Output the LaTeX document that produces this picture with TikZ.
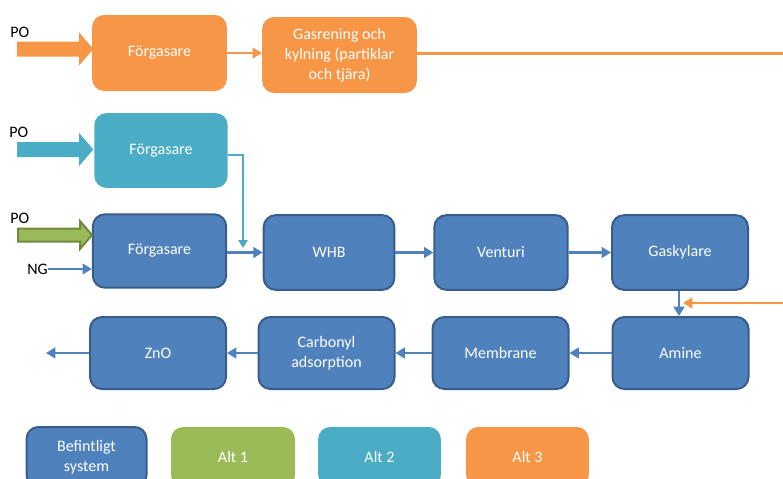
\documentclass[tikz,border=0pt]{standalone}
\usepackage{fontspec}
\setmainfont{Carlito}
\usetikzlibrary{arrows.meta, calc}

\definecolor{Befintlig}{HTML}{4F81BD}
\definecolor{BefintligKant}{HTML}{385D8A}
\definecolor{AltEtt}{HTML}{9BBB59}
\definecolor{AltEttKant}{HTML}{71893F}
\definecolor{AltTva}{HTML}{4BACC6}
\definecolor{AltTre}{HTML}{F79646}

\tikzset{
    steg/.style={
        rectangle, rounded corners=9pt, text=white, align=center,
        font=\fontsize{12}{15}\selectfont, inner sep=0pt
    },
    stegbef/.style={steg, fill=Befintlig, draw=BefintligKant, line width=1.5pt},
    pil/.style={line width=2pt, -{Triangle[length=7pt,width=8pt]}},
    etikett/.style={font=\fontsize{12}{15}\selectfont, inner sep=0pt}
}

% Tjock pil: startpunkt, farg, kantfarg
\newcommand{\tjockpil}[3]{
    \filldraw[fill=#2, draw=#3, line width=1.5pt, line join=miter]
    (#1) ++(0,-6.5) -- ++(62,0) -- ++(0,-7.5) -- ++(12,14)
    -- ++(-12,14) -- ++(0,-7.5) -- ++(-62,0) -- cycle;
}

\begin{document}
\begin{tikzpicture}[x=0.75pt, y=-0.75pt]

\useasboundingbox (0,0) rectangle (783,479);

% Alt 3
\node[steg, fill=AltTre, minimum width=101pt, minimum height=57pt] (forg3) at (159.5,53) {Förgasare};
\node[steg, fill=AltTre, minimum width=116pt, minimum height=57pt] (gasrening) at (339.5,55)
    {Gasrening och\\kylning (partiklar\\och tjära)};

% Alt 2
\node[steg, fill=AltTva, minimum width=100pt, minimum height=56pt] (forg2) at (161,150.5) {Förgasare};

% Befintligt system
\node[stegbef, minimum width=100pt, minimum height=55pt] (forg1) at (159.5,251) {Förgasare};
\node[stegbef, minimum width=98pt, minimum height=56pt] (whb) at (329,252.5) {WHB};
\node[stegbef, minimum width=100pt, minimum height=56pt] (venturi) at (501,252.5) {Venturi};
\node[stegbef, minimum width=102pt, minimum height=56pt] (gaskylare) at (680,252.5) {Gaskylare};

\node[stegbef, minimum width=102pt, minimum height=54pt] (amine) at (680.5,353) {Amine};
\node[stegbef, minimum width=102pt, minimum height=54pt] (membrane) at (500.5,353) {Membrane};
\node[stegbef, minimum width=102pt, minimum height=54pt] (carbonyl) at (326.5,353) {Carbonyl\\adsorption};
\node[stegbef, minimum width=102pt, minimum height=54pt] (zno) at (158,353) {ZnO};

% Teckenforklaring
\node[stegbef, minimum width=90pt, minimum height=45pt] (leg0) at (86.5,457) {Befintligt\\system};
\node[steg, fill=AltEtt, minimum width=93pt, minimum height=45pt] (leg1) at (233,457) {Alt 1};
\node[steg, fill=AltTva, minimum width=92pt, minimum height=45pt] (leg2) at (379.5,457) {Alt 2};
\node[steg, fill=AltTre, minimum width=92pt, minimum height=45pt] (leg3) at (527.5,457) {Alt 3};

% Inflode
\coordinate (po3) at (18,49);
\coordinate (po2) at (18,149.5);
\coordinate (po1) at (18,235);
\coordinate (ng) at (48,269);
\tjockpil{po3}{AltTre}{AltTre}
\tjockpil{po2}{AltTva}{AltTva}
\tjockpil{po1}{AltEtt}{AltEttKant}
\node[etikett, anchor=west] (po3lbl) at (10,32) {PO};
\node[etikett, anchor=west] (po2lbl) at (9,132) {PO};
\node[etikett, anchor=west] (po1lbl) at (10,218) {PO};
\node[etikett, anchor=east] (nglbl) at (ng) {NG};
\draw[pil, draw=Befintlig] (ng) -- (ng -| forg1.west);

% Alt 3 floden
\coordinate (ut3) at (783,53);
\coordinate (in3) at (783,303);
\draw[pil, draw=AltTre] (forg3.east) -- (forg3.east -| gasrening.west);
\draw[line width=2.25pt, draw=AltTre] (gasrening.east |- ut3) -- (ut3);
\draw[pil, draw=AltTre] (in3) -- (683,303);

% Alt 2 floden
\coordinate (in2) at (243,248);
\draw[line width=1.5pt, draw=AltTva, -{Triangle[length=6pt,width=7pt]}]
    ($(forg2.east)+(0,4)$) -| (in2);

% Befintligt system floden
\draw[pil, draw=Befintlig] (forg1.east |- whb.west) -- (whb.west);
\draw[pil, draw=Befintlig] (whb.east) -- (venturi.west);
\draw[pil, draw=Befintlig] (venturi.east) -- (gaskylare.west);
\draw[pil, draw=Befintlig] (gaskylare.south -| 679,0) -- (amine.north -| 679,0);
\draw[pil, draw=Befintlig] (amine.west) -- (membrane.east);
\draw[pil, draw=Befintlig] (membrane.west) -- (carbonyl.east);
\draw[pil, draw=Befintlig] (carbonyl.west) -- (zno.east);
\coordinate (ut) at (46,353);
\draw[pil, draw=Befintlig] (zno.west) -- (ut);

\end{tikzpicture}
\end{document}
